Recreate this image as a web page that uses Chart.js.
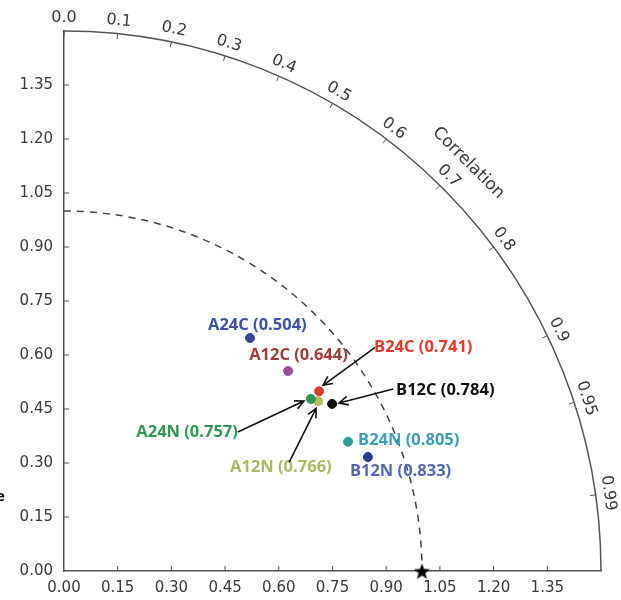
<!DOCTYPE html>
<html>
<head>
<meta charset="utf-8">
<script src="https://cdn.jsdelivr.net/npm/chart.js@4.4.0/dist/chart.umd.min.js"></script>
<style>
  html, body { margin: 0; padding: 0; background: #fff; }
  #wrap { position: relative; width: 621px; height: 600px; }
</style>
</head>
<body>
<div id="wrap"><canvas id="taylor" width="621" height="600"></canvas></div>
<script>
// Taylor diagram data
var models      = ['A24C', 'A12C', 'B24C', 'B12C', 'A24N', 'B24N', 'A12N', 'B12N'];
var scores      = ['0.504', '0.644', '0.741', '0.784', '0.757', '0.805', '0.766', '0.833'];
var stdDev      = [0.830, 0.837, 0.870, 0.881, 0.839, 0.871, 0.852, 0.906];
var correlation = [0.626, 0.748, 0.819, 0.850, 0.822, 0.911, 0.833, 0.937];
var refStd = 1.0;
var refCorr = 1.0;

var stdTicks = [0, 0.15, 0.30, 0.45, 0.60, 0.75, 0.90, 1.05, 1.20, 1.35];
var stdMax = 1.5;
var corrTicks = [0.0, 0.1, 0.2, 0.3, 0.4, 0.5, 0.6, 0.7, 0.8, 0.9, 0.95, 0.99];
var corrTickLabels = ['0.0', '0.1', '0.2', '0.3', '0.4', '0.5', '0.6', '0.7', '0.8', '0.9', '0.95', '0.99'];

// styles
var dotColors   = ['#34479e', '#9a4c9c', '#dc3a2c', '#111111', '#2e9654', '#2e9e94', '#b9bb52', '#2b3b8c'];
var labelColors = ['#3c52a8', '#a23c3a', '#ea3a2a', '#111111', '#2f9a58', '#3c9fb6', '#a6ba62', '#5567b4'];
// label offset from the point in px, and alignment
var labelPos = [
  { dx: -42, dy: -13, align: 'left' },
  { dx: -39, dy: -16, align: 'left' },
  { dx: 55, dy: -44, align: 'left' },
  { dx: 64, dy: -14, align: 'left' },
  { dx: -73, dy: 33, align: 'right' },
  { dx: 10, dy: -1, align: 'left' },
  { dx: -88, dy: 66, align: 'left' },
  { dx: -18, dy: 14, align: 'left' }
];
// arrows: tail offset from the point, head offset from the point
var arrows = {
  'B24C': { tail: [56, -44], head: [4, -6] },
  'B12C': { tail: [61, -15], head: [7, -1] },
  'A24N': { tail: [-73, 33], head: [-7, 2] },
  'A12N': { tail: [-29, 61], head: [-2, 7] }
};

function toXY(s, c) {
  return { x: s * c, y: s * Math.sqrt(Math.max(0, 1 - c * c)) };
}

// filled star marker for the reference point
function makeStar(size) {
  var cv = document.createElement('canvas');
  cv.width = size; cv.height = size;
  var g = cv.getContext('2d');
  var cx = size / 2, cy = size / 2 + 1, R = size / 2, r = R * 0.42;
  g.beginPath();
  for (var i = 0; i < 10; i++) {
    var a = -Math.PI / 2 + i * Math.PI / 5;
    var rr = i % 2 === 0 ? R : r;
    g.lineTo(cx + rr * Math.cos(a), cy + rr * Math.sin(a));
  }
  g.closePath();
  g.fillStyle = '#000';
  g.fill();
  return cv;
}

var datasets = models.map(function (m, i) {
  return {
    label: m,
    data: [toXY(stdDev[i], correlation[i])],
    backgroundColor: dotColors[i],
    borderColor: dotColors[i],
    pointRadius: 4.5,
    pointHoverRadius: 4.5
  };
});
datasets.push({
  label: 'Reference',
  data: [toXY(refStd, refCorr)],
  pointStyle: makeStar(17),
  pointRadius: 8,
  clip: false
});

var tickFont = '16px "DejaVu Sans", sans-serif';
var tickColor = '#3a3a3a';
var axisColor = '#555';

var taylorPlugin = {
  id: 'taylor',
  beforeDatasetsDraw: function (chart) {
    var ctx = chart.ctx;
    var xs = chart.scales.x, ys = chart.scales.y;
    var x0 = xs.getPixelForValue(0), y0 = ys.getPixelForValue(0);
    function rx(r) { return xs.getPixelForValue(r) - x0; }
    function ry(r) { return y0 - ys.getPixelForValue(r); }
    function pt(r, ang) { return [x0 + rx(r) * Math.cos(ang), y0 - ry(r) * Math.sin(ang)]; }

    ctx.save();
    // outer correlation arc
    ctx.strokeStyle = axisColor;
    ctx.lineWidth = 1.5;
    ctx.beginPath();
    ctx.ellipse(x0, y0, rx(stdMax), ry(stdMax), 0, -Math.PI / 2, 0);
    ctx.stroke();

    // reference std dashed arc
    ctx.strokeStyle = '#444';
    ctx.setLineDash([7, 6]);
    ctx.beginPath();
    ctx.ellipse(x0, y0, rx(refStd), ry(refStd), 0, -Math.PI / 2, 0);
    ctx.stroke();
    ctx.setLineDash([]);

    // inward ticks on std axes
    ctx.strokeStyle = axisColor;
    ctx.lineWidth = 1;
    stdTicks.forEach(function (v) {
      if (v === 0) return;
      var px = xs.getPixelForValue(v), py = ys.getPixelForValue(v);
      ctx.beginPath();
      ctx.moveTo(px, y0); ctx.lineTo(px, y0 - 5);
      ctx.moveTo(x0, py); ctx.lineTo(x0 + 5, py);
      ctx.stroke();
    });

    // correlation ticks and labels
    ctx.font = tickFont;
    ctx.fillStyle = tickColor;
    ctx.textAlign = 'center';
    ctx.textBaseline = 'middle';
    corrTicks.forEach(function (c, i) {
      var ang = Math.acos(c);
      var a = pt(stdMax, ang), b = pt(stdMax - 0.015, ang);
      ctx.beginPath();
      ctx.moveTo(a[0], a[1]); ctx.lineTo(b[0], b[1]);
      ctx.stroke();
      var l = pt(stdMax + 0.036, ang);
      ctx.save();
      ctx.translate(l[0], l[1]);
      ctx.rotate(Math.PI / 2 - ang);
      ctx.fillText(corrTickLabels[i], 0, 0);
      ctx.restore();
    });

    // axis title along the arc
    var angT = Math.acos(0.706);
    var t = pt(stdMax + 0.1, angT);
    ctx.save();
    ctx.font = '17px "DejaVu Sans", sans-serif';
    ctx.translate(t[0], t[1]);
    ctx.rotate(Math.PI / 2 - angT);
    ctx.fillText('Correlation', 0, 0);
    ctx.restore();

    // clipped letter at the left edge
    ctx.font = 'bold 15px "Open Sans", sans-serif';
    ctx.fillStyle = '#000';
    ctx.textAlign = 'left';
    ctx.fillText('e', -4, 497);
    ctx.restore();
  },
  afterDatasetsDraw: function (chart) {
    var ctx = chart.ctx;
    ctx.save();
    ctx.font = 'bold 16.5px "Open Sans", sans-serif';
    ctx.textBaseline = 'middle';
    models.forEach(function (m, i) {
      var el = chart.getDatasetMeta(i).data[0];
      var p = labelPos[i];
      ctx.fillStyle = labelColors[i];
      ctx.textAlign = p.align;
      ctx.fillText(m + ' (' + scores[i] + ')', el.x + p.dx, el.y + p.dy);

      var ar = arrows[m];
      if (!ar) return;
      var tx = el.x + ar.tail[0], ty = el.y + ar.tail[1];
      var hx = el.x + ar.head[0], hy = el.y + ar.head[1];
      var ang = Math.atan2(hy - ty, hx - tx);
      ctx.strokeStyle = '#111';
      ctx.lineWidth = 1.6;
      ctx.beginPath();
      ctx.moveTo(tx, ty); ctx.lineTo(hx, hy);
      ctx.moveTo(hx - 10 * Math.cos(ang - 0.45), hy - 10 * Math.sin(ang - 0.45));
      ctx.lineTo(hx, hy);
      ctx.lineTo(hx - 10 * Math.cos(ang + 0.45), hy - 10 * Math.sin(ang + 0.45));
      ctx.stroke();
    });
    ctx.restore();
  }
};

function stdAxis(fit) {
  return {
    type: 'linear',
    min: 0,
    max: stdMax,
    afterBuildTicks: function (scale) {
      scale.ticks = stdTicks.map(function (v) { return { value: v }; });
    },
    afterFit: fit,
    grid: { drawOnChartArea: false, drawTicks: false },
    border: { display: true, color: axisColor, width: 1.5 },
    ticks: {
      color: tickColor,
      font: { family: '"DejaVu Sans", sans-serif', size: 15 },
      callback: function (v) { return Number(v).toFixed(2); }
    }
  };
}

var xAxis = stdAxis(function (scale) { scale.height = 29; });
xAxis.ticks.padding = 8;
xAxis.ticks.maxRotation = 0;
xAxis.ticks.autoSkip = false;
var yAxis = stdAxis(function (scale) { scale.width = 64; });
yAxis.ticks.padding = 11;
yAxis.ticks.autoSkip = false;

new Chart(document.getElementById('taylor'), {
  type: 'scatter',
  data: { datasets: datasets },
  options: {
    responsive: false,
    animation: false,
    layout: { padding: { top: 31, right: 20, left: 0, bottom: 0 } },
    plugins: { legend: { display: false }, tooltip: { enabled: false } },
    scales: { x: xAxis, y: yAxis }
  },
  plugins: [taylorPlugin]
});
</script>
</body>
</html>
